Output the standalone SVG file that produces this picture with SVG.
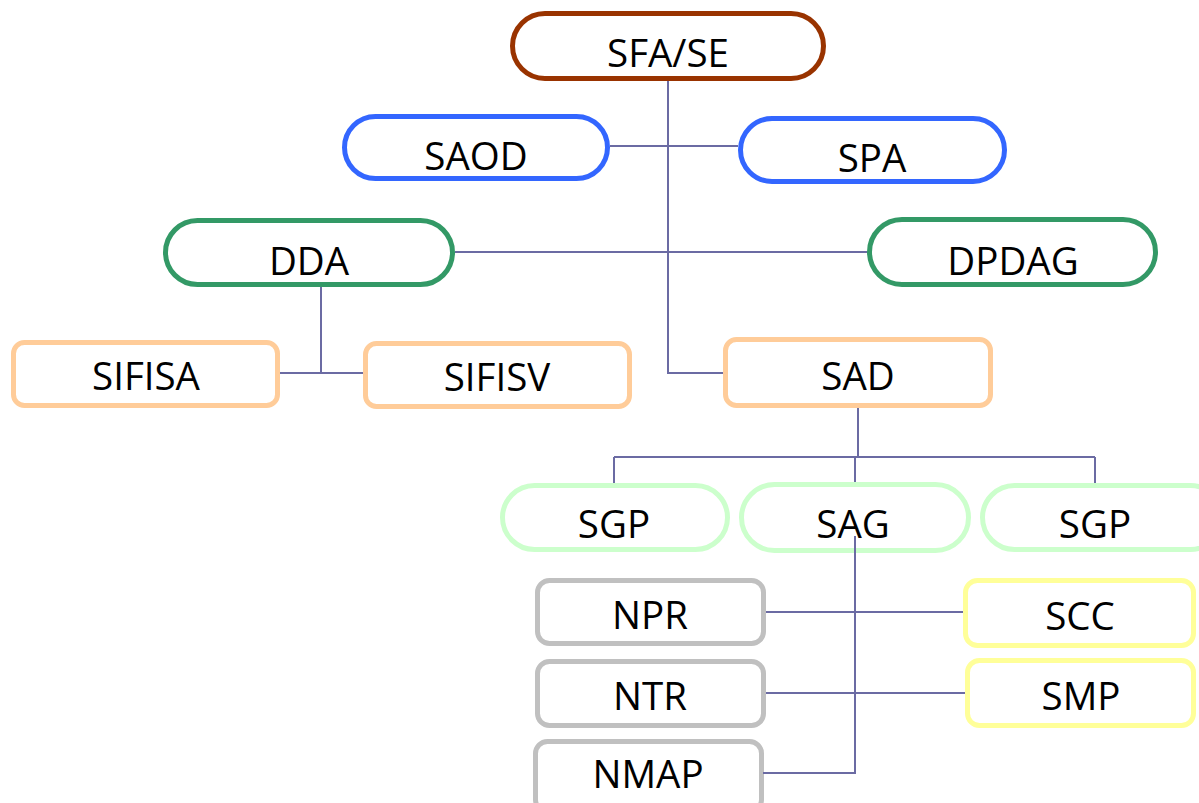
<svg xmlns="http://www.w3.org/2000/svg" width="1199" height="803" viewBox="0 0 1199 803">
<style>
.n{fill:#fff;stroke-width:5}
.t{font-family:"Open Sans","Noto Sans",sans-serif;font-size:38.5px;fill:#000;text-anchor:middle}
.c{fill:none;stroke:#6B6BA3;stroke-width:2}
.brown{stroke:#993300}.blue{stroke:#3366FF}.green{stroke:#339966}.orange{stroke:#FFCC99}.lg{stroke:#CCFFCC}.gray{stroke:#C0C0C0}.yel{stroke:#FFFF99}
</style>
<rect width="1199" height="803" fill="#fff"/>
<g id="n-sfa"><rect class="n brown" x="512.5" y="13.5" width="311" height="65" rx="32.5"/><text class="t" x="668" y="67">SFA/SE</text></g>
<g id="n-saod"><rect class="n blue" x="344.5" y="116.5" width="263" height="62" rx="31"/><text class="t" x="476" y="170">SAOD</text></g>
<g id="n-spa"><rect class="n blue" x="740.5" y="118.5" width="264" height="63" rx="31.5"/><text class="t" x="872" y="172">SPA</text></g>
<g id="n-dda"><rect class="n green" x="165.5" y="220.5" width="287" height="64" rx="32"/><text class="t" x="309" y="275">DDA</text></g>
<g id="n-dpdag"><rect class="n green" x="869.5" y="219.5" width="286" height="65" rx="32.5"/><text class="t" x="1013" y="275">DPDAG</text></g>
<g id="n-sifisa"><rect class="n orange" x="13.5" y="342.5" width="264" height="63" rx="11"/><text class="t" x="146" y="390">SIFISA</text></g>
<g id="n-sifisv"><rect class="n orange" x="365.5" y="343.5" width="264" height="63" rx="11"/><text class="t" x="497" y="391">SIFISV</text></g>
<g id="n-sad"><rect class="n orange" x="725.5" y="339.5" width="265" height="66" rx="11"/><text class="t" x="858" y="390">SAD</text></g>
<g id="n-sgp1"><rect class="n lg" x="502.5" y="485.5" width="225" height="64" rx="32"/><text class="t" x="614" y="538">SGP</text></g>
<g id="n-sag"><rect class="n lg" x="741.5" y="484.5" width="227" height="66" rx="33"/><text class="t" x="853" y="538">SAG</text></g>
<g id="n-sgp2"><rect class="n lg" x="982.5" y="485.5" width="240" height="64" rx="32"/><text class="t" x="1095" y="538">SGP</text></g>
<g id="n-npr"><rect class="n gray" x="537.5" y="580.5" width="226" height="63" rx="12"/><text class="t" x="650" y="629">NPR</text></g>
<g id="n-ntr"><rect class="n gray" x="537.5" y="661.5" width="226" height="64" rx="12"/><text class="t" x="650" y="710">NTR</text></g>
<g id="n-nmap"><rect class="n gray" x="535.5" y="741.5" width="226" height="70" rx="12"/><text class="t" x="648" y="788">NMAP</text></g>
<g id="n-scc"><rect class="n yel" x="965.5" y="580.5" width="228" height="65" rx="12"/><text class="t" x="1080" y="630">SCC</text></g>
<g id="n-smp"><rect class="n yel" x="967.5" y="660.5" width="226" height="65" rx="12"/><text class="t" x="1081" y="710">SMP</text></g>
<g id="connectors">
<path class="c" d="M668 81V373H723"/>
<path class="c" d="M610 146H738"/>
<path class="c" d="M455 252H867"/>
<path class="c" d="M321 287V373M280 373H363"/>
<path class="c" d="M858 408V457M614 457H1095M614 457V483M1095 457V483M855 457V482"/>
<path class="c" d="M855 536V773H763"/>
<path class="c" d="M766 612H963M766 693H965"/>
</g>
</svg>
